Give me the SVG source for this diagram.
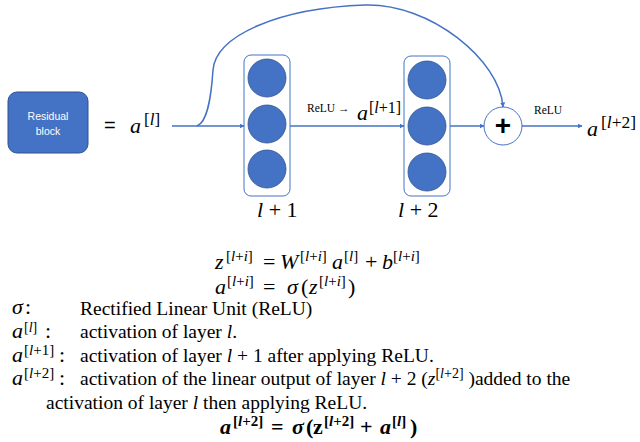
<svg xmlns="http://www.w3.org/2000/svg" width="640" height="442" viewBox="0 0 640 442">
<style>
.ln{fill:none;stroke:#4472C4;stroke-width:1.5}
.box{fill:#fff;stroke:#4472C4;stroke-width:1}
.neu{fill:#4472C4;stroke:#2F528F;stroke-width:0.8}
.m{font-family:"Liberation Serif","Times New Roman",serif;fill:#000;font-size:22px}
.i{font-style:italic}
.n{font-style:normal}
.s{font-size:15px}
.t{font-family:"Liberation Serif","Times New Roman",serif;font-size:19.5px;fill:#000}
.relu{font-family:"Liberation Serif","Times New Roman",serif;font-size:11.5px;fill:#000}
.wt{font-family:"Liberation Sans",Arial,sans-serif;font-size:10.5px;fill:#fff;text-anchor:middle}
</style>
<defs>
<marker id="ah" viewBox="0 0 10 10" refX="9" refY="5" markerWidth="5" markerHeight="5" orient="auto" markerUnits="userSpaceOnUse">
<path d="M0,0 L10,5 L0,10 z" fill="#4472C4"/>
</marker>
</defs>

<g id="residual-block">
<rect x="8" y="92" width="80" height="61" rx="9" fill="#4472C4" stroke="#2F528F" stroke-width="1"/>
<text class="wt" x="48" y="120">Residual</text>
<text class="wt" x="48" y="135">block</text>
</g>

<g id="equals-al">
<text x="104" y="132" font-family="'Liberation Sans',Arial,sans-serif" font-size="20" fill="#000">=</text>
<text class="m" x="130" y="133" font-size="26"><tspan class="i">a</tspan><tspan x="144" y="125" font-size="17">[<tspan class="i">l</tspan>]</tspan></text>
</g>

<g id="layer1">
<rect class="box" x="244" y="55" width="46" height="141" rx="7"/>
<circle class="neu" cx="267" cy="78" r="19"/>
<circle class="neu" cx="267" cy="124" r="19"/>
<circle class="neu" cx="267" cy="169" r="19"/>
<text class="m" x="257" y="217" font-size="21"><tspan class="i">l</tspan> + 1</text>
</g>

<g id="layer2">
<rect class="box" x="404" y="56" width="46" height="140" rx="7"/>
<circle class="neu" cx="427" cy="80" r="19"/>
<circle class="neu" cx="427" cy="126" r="19"/>
<circle class="neu" cx="427" cy="172" r="19"/>
<text class="m" x="398" y="217" font-size="21"><tspan class="i">l</tspan> + 2</text>
</g>

<g id="plus">
<circle cx="503" cy="126" r="19" fill="#fff" stroke="#4472C4" stroke-width="1"/>
<text x="503" y="135" font-family="'Liberation Sans',Arial,sans-serif" font-size="28" font-weight="bold" text-anchor="middle" fill="#000">+</text>
</g>

<g id="connectors">
<line class="ln" x1="172" y1="126" x2="244" y2="126" marker-end="url(#ah)"/>
<line class="ln" x1="290" y1="126" x2="404" y2="126" marker-end="url(#ah)"/>
<line class="ln" x1="450" y1="126" x2="484" y2="126" marker-end="url(#ah)"/>
<line class="ln" x1="522" y1="126" x2="582" y2="126" marker-end="url(#ah)"/>
<path class="ln" d="M197,126 C207,122 211,100 213,70 C216,35 280,8 365,5 C430,3 500,60 503,107" marker-end="url(#ah)"/>
</g>

<g id="labels">
<text class="relu" x="307" y="112">ReLU →</text>
<text class="m" x="357" y="120" font-size="23"><tspan class="i">a</tspan><tspan x="369" y="113" font-size="16">[<tspan class="i">l</tspan>+1]</tspan></text>
<text class="relu" x="534" y="114">ReLU</text>
<text class="m" x="587" y="136" font-size="27"><tspan class="i">a</tspan><tspan x="601" y="128" font-size="17.5">[<tspan class="i">l</tspan>+2]</tspan></text>
</g>

<g id="equations">
<text class="m" y="269"><tspan class="i" x="215">z</tspan><tspan class="s" x="226" y="261">[<tspan class="i">l</tspan>+<tspan class="i">i</tspan>]</tspan><tspan x="263" y="269">=</tspan><tspan class="i" x="280">W</tspan><tspan class="s" x="300" y="261">[<tspan class="i">l</tspan>+<tspan class="i">i</tspan>]</tspan><tspan class="i" x="332" y="269">a</tspan><tspan class="s" x="344" y="261">[<tspan class="i">l</tspan>]</tspan><tspan x="365" y="269">+</tspan><tspan class="i" x="382">b</tspan><tspan class="s" x="393" y="261">[<tspan class="i">l</tspan>+<tspan class="i">i</tspan>]</tspan></text>

<text class="m" y="294"><tspan class="i" x="215">a</tspan><tspan class="s" x="227" y="286">[<tspan class="i">l</tspan>+<tspan class="i">i</tspan>]</tspan><tspan x="263" y="294">=</tspan><tspan class="i" x="287">σ</tspan><tspan x="301">(</tspan><tspan class="i" x="309">z</tspan><tspan class="s" x="319" y="286">[<tspan class="i">l</tspan>+<tspan class="i">i</tspan>]</tspan><tspan x="348" y="294">)</tspan></text>

<text class="m" y="314" font-size="21"><tspan class="i" x="12">σ</tspan><tspan x="25">:</tspan></text>
<text class="t" x="80" y="315">Rectified Linear Unit (ReLU)</text>

<text class="m" y="338" font-size="21"><tspan class="i" x="12">a</tspan><tspan x="24" y="332" font-size="14">[<tspan class="i">l</tspan>]</tspan><tspan x="45" y="338">:</tspan></text>
<text class="t" x="80" y="338">activation of layer <tspan class="i">l</tspan>.</text>

<text class="m" y="362" font-size="21"><tspan class="i" x="12">a</tspan><tspan x="24" y="355" font-size="15">[<tspan class="i">l</tspan>+1]</tspan><tspan x="59" y="362">:</tspan></text>
<text class="t" x="80" y="362">activation of layer <tspan class="i">l</tspan> + 1 after applying ReLU.</text>

<text class="m" y="385" font-size="21"><tspan class="i" x="12">a</tspan><tspan x="24" y="378" font-size="15">[<tspan class="i">l</tspan>+2]</tspan><tspan x="59" y="385">:</tspan></text>
<text class="t" x="80" y="385">activation of the linear output of layer <tspan class="i">l</tspan> + 2 (<tspan class="i">z</tspan><tspan dy="-7" font-size="14">[<tspan class="i">l</tspan>+2]</tspan><tspan dy="7"> )added to the</tspan></text>
<text class="t" x="46" y="409">activation of layer <tspan class="i">l</tspan> then applying ReLU.</text>

<text class="m" y="434" font-weight="bold"><tspan class="i" x="220">a</tspan><tspan class="s" x="233" y="426">[<tspan class="i">l</tspan>+2]</tspan><tspan x="271" y="434">=</tspan><tspan class="i" x="292">σ</tspan><tspan x="306">(</tspan><tspan x="313">z</tspan><tspan class="s" x="324" y="426">[<tspan class="i">l</tspan>+2]</tspan><tspan x="360" y="434">+</tspan><tspan class="i" x="380">a</tspan><tspan class="s" x="392" y="426">[<tspan class="i">l</tspan>]</tspan><tspan x="410" y="434">)</tspan></text>
</g>
</svg>
